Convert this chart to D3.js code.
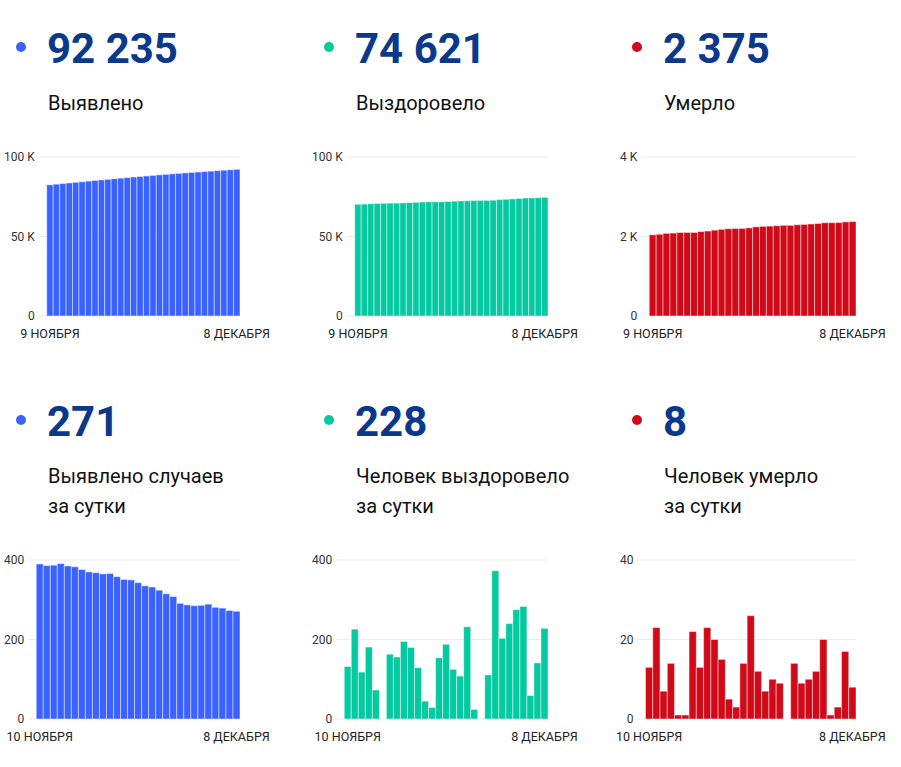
<!DOCTYPE html>
<html>
<head>
<meta charset="utf-8">
<script src="https://cdn.jsdelivr.net/npm/d3@7"></script>
<style>
  body { margin: 0; background: #fff; }
  svg { display: block; font-family: Roboto, sans-serif; }
</style>
</head>
<body>
<div id="chart"></div>
<script>
// cumulative, 9 Nov .. 8 Dec
const totalDates = ['9 НОЯБРЯ', '8 ДЕКАБРЯ'];
const casesTotal = [82510, 82900, 83286, 83673, 84064, 84449, 84832, 85208, 85578, 85946,
  86311, 86677, 87035, 87386, 87736, 88079, 88414, 88746, 89070, 89385,
  89693, 89984, 90271, 90556, 90842, 91131, 91412, 91691, 91964, 92235];
const recoveredTotal = [70246, 70378, 70604, 70722, 70903, 70976, 70978, 71141, 71297, 71492,
  71672, 71801, 71846, 71875, 72029, 72217, 72342, 72450, 72682, 72706,
  72708, 72819, 73192, 73395, 73635, 73910, 74193, 74252, 74393, 74621];
const deathsTotal = [2043, 2056, 2079, 2086, 2100, 2101, 2102, 2124, 2137, 2160,
  2180, 2195, 2200, 2203, 2217, 2243, 2255, 2262, 2272, 2281,
  2281, 2295, 2304, 2314, 2326, 2346, 2347, 2350, 2367, 2375];

// daily, 10 Nov .. 8 Dec
const dailyDates = ['10 НОЯБРЯ', '8 ДЕКАБРЯ'];
const casesDaily = [390, 386, 387, 391, 385, 383, 376, 370, 368, 365,
  366, 358, 351, 350, 343, 335, 332, 324, 315, 308,
  291, 287, 285, 286, 289, 281, 279, 273, 271];
const recoveredDaily = [132, 226, 118, 181, 73, 0, 163, 156, 195, 180,
  129, 45, 29, 154, 188, 125, 108, 232, 24, 0,
  111, 373, 203, 240, 275, 283, 59, 141, 228];
const deathsDaily = [13, 23, 7, 14, 1, 1, 22, 13, 23, 20,
  15, 5, 3, 14, 26, 12, 7, 10, 9, null,
  14, 9, 10, 12, 20, 1, 3, 17, 8];

const headlines = ['92 235', '74 621', '2 375', '271', '228', '8'];
const captions = [
  ['Выявлено'], ['Выздоровело'], ['Умерло'],
  ['Выявлено случаев', 'за сутки'], ['Человек выздоровело', 'за сутки'], ['Человек умерло', 'за сутки']
];
const tickValues = [
  [0, 50000, 100000], [0, 50000, 100000], [0, 2000, 4000],
  [0, 200, 400], [0, 200, 400], [0, 20, 40]
];
const tickLabels = [
  ['0', '50 K', '100 K'], ['0', '50 K', '100 K'], ['0', '2 K', '4 K'],
  ['0', '200', '400'], ['0', '200', '400'], ['0', '20', '40']
];

const colors = ['#3a62ff', '#05c9a1', '#d00a18'];
const numberColor = '#0a398c';

const svg = d3.select('#chart')
  .append('svg')
  .attr('width', 901)
  .attr('height', 767);

const panels = [
  { values: casesTotal, dates: totalDates },
  { values: recoveredTotal, dates: totalDates },
  { values: deathsTotal, dates: totalDates },
  { values: casesDaily, dates: dailyDates },
  { values: recoveredDaily, dates: dailyDates },
  { values: deathsDaily, dates: dailyDates }
];

function drawPanel(p, i) {
  const col = i % 3;
  const row = Math.floor(i / 3);
  const left = 4 + 308 * col;
  const right = 240 + 308 * col;
  const top = row * 373;
  const color = colors[col];
  const lines = captions[i];
  const chartTop = top + 157 + (lines.length - 1) * 30;
  const chartBottom = chartTop + 159;

  const g = svg.append('g');

  g.append('circle')
    .attr('cx', 21 + 308 * col)
    .attr('cy', top + 47)
    .attr('r', 5)
    .attr('fill', color);

  g.append('text')
    .attr('x', 47 + 308 * col)
    .attr('y', top + 63)
    .attr('font-size', '42px')
    .attr('font-weight', 700)
    .attr('fill', numberColor)
    .text(headlines[i]);

  g.selectAll('.caption')
    .data(lines)
    .enter()
    .append('text')
    .attr('class', 'caption')
    .attr('x', 48 + 308 * col)
    .attr('y', (d, k) => top + 110 + k * 30)
    .attr('font-size', '20px')
    .attr('fill', '#111')
    .text(d => d);

  // y labels first, so the plot can start after the widest one
  const yLabels = g.selectAll('.ylab')
    .data(tickValues[i])
    .enter()
    .append('text')
    .attr('class', 'ylab')
    .attr('font-size', '12px')
    .attr('fill', '#333')
    .attr('dy', '0.35em')
    .text((d, k) => tickLabels[i][k]);

  let labelW = 0;
  yLabels.each(function () { labelW = Math.max(labelW, this.getComputedTextLength()); });
  const labelEnd = left + labelW;
  const plotLeft = labelEnd + 12;

  const yScale = d3.scaleLinear()
    .domain([0, d3.max(tickValues[i])])
    .range([chartBottom, chartTop]);

  const xScale = d3.scaleBand()
    .domain(d3.range(p.values.length))
    .range([plotLeft, right])
    .padding(0);

  yLabels
    .attr('x', labelEnd)
    .attr('y', d => yScale(d))
    .attr('text-anchor', 'end');

  g.selectAll('.grid')
    .data(tickValues[i])
    .enter()
    .append('line')
    .attr('class', 'grid')
    .attr('x1', labelEnd + 4)
    .attr('x2', right)
    .attr('y1', d => yScale(d))
    .attr('y2', d => yScale(d))
    .attr('stroke', '#ececec')
    .attr('stroke-width', 1);

  g.selectAll('.bar')
    .data(p.values.map((v, k) => ({ k: k, v: v })).filter(d => d.v !== null))
    .enter()
    .append('rect')
    .attr('class', 'bar')
    .attr('x', d => xScale(d.k))
    .attr('y', d => yScale(d.v))
    .attr('width', xScale.bandwidth())
    .attr('height', d => chartBottom - yScale(d.v))
    .attr('fill', color)
    .attr('stroke', 'rgba(255,255,255,0.45)')
    .attr('stroke-width', 1);

  const ends = [0, p.values.length - 1];
  g.selectAll('.xlab')
    .data(ends)
    .enter()
    .append('text')
    .attr('class', 'xlab')
    .attr('x', d => xScale(d) + xScale.bandwidth() / 2)
    .attr('y', chartBottom + 22)
    .attr('text-anchor', 'middle')
    .attr('font-size', '12.5px')
    .attr('fill', '#222')
    .text((d, k) => p.dates[k]);
}

panels.forEach(drawPanel);
</script>
</body>
</html>
